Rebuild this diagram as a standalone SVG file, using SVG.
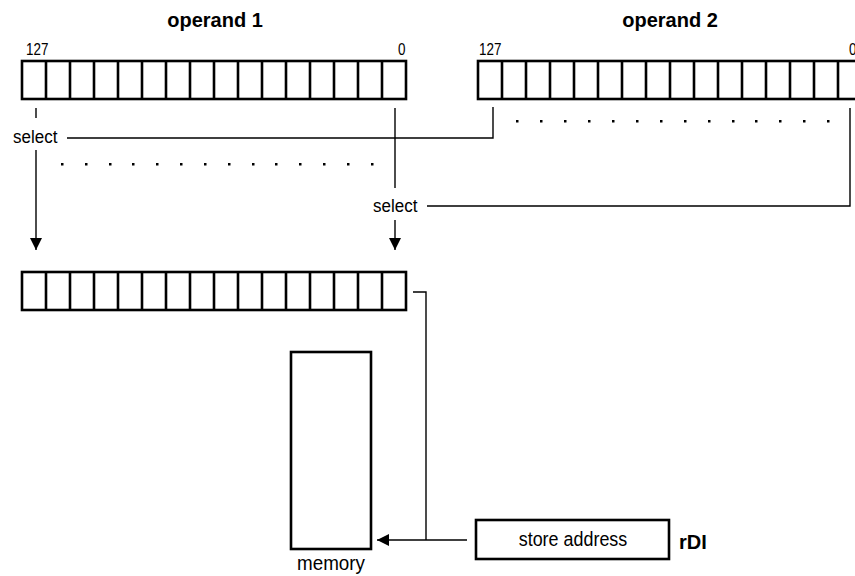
<svg xmlns="http://www.w3.org/2000/svg" width="855" height="576" viewBox="0 0 855 576">
<style>
.reg{fill:#fff;stroke:#000;stroke-width:2.6}
.div{stroke:#000;stroke-width:2.6}
.ln{fill:none;stroke:#000;stroke-width:1.4}
.t{font-family:"Liberation Sans",Arial,sans-serif;fill:#000}
.lbl{font-size:18.5px}
.num{font-size:16px}
.head{font-size:20px;font-weight:bold}
.dot{fill:#000}
</style>
<defs>
<marker id="ah" viewBox="0 0 10 10" refX="10" refY="5" markerWidth="12" markerHeight="12" markerUnits="userSpaceOnUse" orient="auto">
<path d="M0,0 L10,5 L0,10 Z" fill="#000"/>
</marker>
<g id="cells">
<path class="div" d="M46,0V38M70,0V38M94,0V38M118,0V38M142,0V38M166,0V38M190,0V38M214,0V38M238,0V38M262,0V38M286,0V38M310,0V38M334,0V38M358,0V38M382,0V38"/>
</g>
</defs>

<g id="operand1">
<text class="t head" x="215" y="27" text-anchor="middle">operand 1</text>
<text class="t num" transform="translate(26,55) scale(0.84,1)">127</text>
<text class="t num" transform="translate(398,55) scale(0.84,1)">0</text>
<rect class="reg" x="22" y="61" width="384" height="38"/>
<use href="#cells" x="0" y="61"/>
</g>

<g id="operand2">
<text class="t head" x="670" y="27" text-anchor="middle">operand 2</text>
<text class="t num" transform="translate(479,55) scale(0.84,1)">127</text>
<text class="t num" transform="translate(849,55) scale(0.84,1)">0</text>
<rect class="reg" x="478" y="61" width="385" height="38"/>
<use href="#cells" x="456" y="61"/>
</g>

<g id="result">
<rect class="reg" x="22" y="272" width="384" height="38"/>
<use href="#cells" x="0" y="272"/>
</g>

<g id="memory">
<rect class="reg" x="291" y="352" width="80" height="197"/>
<text class="t lbl" transform="translate(331,570) scale(0.92,1)" text-anchor="middle" style="font-size:20.5px">memory</text>
</g>

<g id="store-address">
<rect class="reg" x="476" y="520" width="193" height="39"/>
<text class="t lbl" transform="translate(573,546) scale(0.92,1)" text-anchor="middle" style="font-size:19.5px">store address</text>
<text class="t head" x="679" y="549">rDI</text>
</g>

<g id="select-labels">
<text class="t lbl" transform="translate(13,143) scale(0.92,1)">select</text>
<text class="t lbl" transform="translate(373,212) scale(0.92,1)">select</text>
</g>

<g id="connectors">
<path class="ln" d="M36,108V118"/>
<path class="ln" d="M36,150V250" marker-end="url(#ah)"/>
<path class="ln" d="M67,138H493V107"/>
<path class="ln" d="M395,108V188"/>
<path class="ln" d="M395,220V250" marker-end="url(#ah)"/>
<path class="ln" d="M427,206H850V108"/>
<path class="ln" d="M413,292H426V540"/>
<path class="ln" d="M467,540H377" marker-end="url(#ah)"/>
</g>

<g id="dots">
<g class="dot">
<rect x="61" y="163" width="2.5" height="2.5"/><rect x="85" y="163" width="2.5" height="2.5"/><rect x="109" y="163" width="2.5" height="2.5"/><rect x="132" y="163" width="2.5" height="2.5"/><rect x="156" y="163" width="2.5" height="2.5"/><rect x="180" y="163" width="2.5" height="2.5"/><rect x="204" y="163" width="2.5" height="2.5"/><rect x="228" y="163" width="2.5" height="2.5"/><rect x="252" y="163" width="2.5" height="2.5"/><rect x="275" y="163" width="2.5" height="2.5"/><rect x="299" y="163" width="2.5" height="2.5"/><rect x="323" y="163" width="2.5" height="2.5"/><rect x="347" y="163" width="2.5" height="2.5"/><rect x="371" y="163" width="2.5" height="2.5"/>
<rect x="516" y="120" width="2.5" height="2.5"/><rect x="540" y="120" width="2.5" height="2.5"/><rect x="564" y="120" width="2.5" height="2.5"/><rect x="588" y="120" width="2.5" height="2.5"/><rect x="612" y="120" width="2.5" height="2.5"/><rect x="636" y="120" width="2.5" height="2.5"/><rect x="660" y="120" width="2.5" height="2.5"/><rect x="684" y="120" width="2.5" height="2.5"/><rect x="708" y="120" width="2.5" height="2.5"/><rect x="732" y="120" width="2.5" height="2.5"/><rect x="755" y="120" width="2.5" height="2.5"/><rect x="779" y="120" width="2.5" height="2.5"/><rect x="803" y="120" width="2.5" height="2.5"/><rect x="827" y="120" width="2.5" height="2.5"/>
</g>
</g>
</svg>
